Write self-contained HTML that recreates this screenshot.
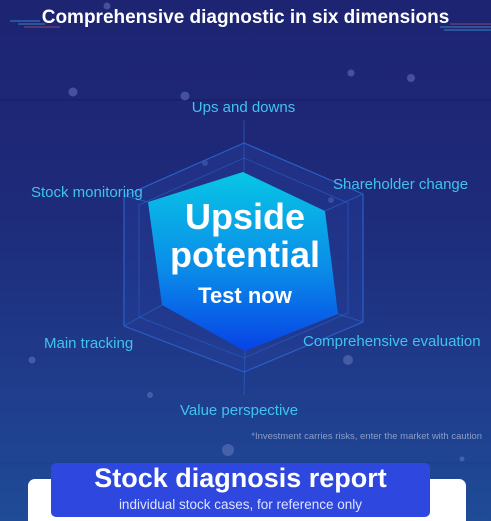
<!DOCTYPE html>
<html><head><meta charset="utf-8"><style>
html,body{margin:0;padding:0;width:491px;height:521px;overflow:hidden}
body{position:relative;font-family:"Liberation Sans","DejaVu Sans",sans-serif;background:linear-gradient(180deg,#1d2472 0%,#1e2a7a 40%,#1f3d8c 75%,#1f4b97 100%)}
.t{position:absolute;white-space:nowrap}
.lab{color:#3fc4ee;font-size:15px}
</style></head><body>
<svg width="491" height="521" style="position:absolute;left:0;top:0">
 <defs>
  <linearGradient id="hg" x1="0" y1="0" x2="0" y2="1">
   <stop offset="0" stop-color="#08c6e6"/><stop offset="0.55" stop-color="#0a8be8"/><stop offset="1" stop-color="#0842e6"/>
  </linearGradient>
 </defs>
 <line x1="0" y1="100" x2="491" y2="100" stroke="#16195e" stroke-width="1"/>
 <line x1="0" y1="463" x2="491" y2="463" stroke="#1c3d84" stroke-width="1"/>
 <g fill="#6d7cc4" opacity="0.5">
  <circle cx="107" cy="6" r="3.5"/><circle cx="73" cy="92" r="4.5"/><circle cx="185" cy="96" r="4.5"/>
  <circle cx="351" cy="73" r="3.5"/><circle cx="411" cy="78" r="4"/><circle cx="205" cy="163" r="3"/>
  <circle cx="331" cy="200" r="3"/><circle cx="348" cy="360" r="5"/><circle cx="32" cy="360" r="3.5"/>
  <circle cx="228" cy="450" r="6"/><circle cx="462" cy="459" r="2.5"/><circle cx="150" cy="395" r="3"/>
 </g>
 <g stroke="#3ab0e8" stroke-width="1" opacity="0.7">
  <line x1="10" y1="21" x2="40" y2="21"/><line x1="18" y1="24" x2="45" y2="24"/><line x1="24" y1="27" x2="60" y2="27" stroke="#c05070"/>
  <line x1="440" y1="27" x2="491" y2="27"/><line x1="444" y1="30" x2="491" y2="30"/><line x1="450" y1="24" x2="491" y2="24" stroke="#c05070"/>
 </g>
 <polygon points="244,143 363,194 363,322 244,372 124,326 124,196" fill="#2543a0" fill-opacity="0.35" stroke="#2a5fc4" stroke-width="1.2"/>
 <polygon points="244,158 348,203 348,313 244,358 139,317 139,205" fill="none" stroke="#2a5fc4" stroke-opacity="0.6"/>
 <g stroke="#2a5fc4" stroke-opacity="0.7">
  <line x1="244" y1="120" x2="244" y2="172"/><line x1="325" y1="211" x2="363" y2="194"/><line x1="338" y1="314" x2="363" y2="322"/>
  <line x1="245" y1="351" x2="244" y2="395"/><line x1="162" y1="305" x2="124" y2="326"/><line x1="148" y1="202" x2="124" y2="196"/>
 </g>
 <polygon points="243,172 325,211 338,314 245,351 162,305 148,202" fill="url(#hg)"/>
</svg>
<div class="t" style="left:0;width:491px;text-align:center;top:7px;color:#fff;font-weight:bold;font-size:19px">Comprehensive diagnostic in six dimensions</div>
<div class="t lab" style="left:0;width:487px;text-align:center;top:99px">Ups and downs</div>
<div class="t lab" style="left:31px;top:184px">Stock monitoring</div>
<div class="t lab" style="left:333px;top:176px">Shareholder change</div>
<div class="t lab" style="left:44px;top:335px">Main tracking</div>
<div class="t lab" style="left:303px;top:333px">Comprehensive evaluation</div>
<div class="t lab" style="left:180px;top:402px">Value perspective</div>
<div class="t" style="left:140px;width:210px;text-align:center;top:198px;color:#fff;font-weight:bold;font-size:36px;line-height:38px">Upside<br>potential</div>
<div class="t" style="left:140px;width:210px;text-align:center;top:283px;color:#fff;font-weight:bold;font-size:22px">Test now</div>
<div class="t" style="right:9px;top:431px;color:#8c9cc8;font-size:9.5px">*Investment carries risks, enter the market with caution</div>
<div style="position:absolute;left:28px;top:479px;width:438px;height:42px;background:#fff;border-radius:7px 7px 0 0"></div>
<div style="position:absolute;left:51px;top:463px;width:379px;height:54px;background:#2d47df;border-radius:5px"></div>
<div class="t" style="left:51px;width:379px;text-align:center;top:463px;color:#fff;font-weight:bold;font-size:27px">Stock diagnosis report</div>
<div class="t" style="left:51px;width:379px;text-align:center;top:497px;color:#dfe4ff;font-size:13.5px">individual stock cases, for reference only</div>
</body></html>
